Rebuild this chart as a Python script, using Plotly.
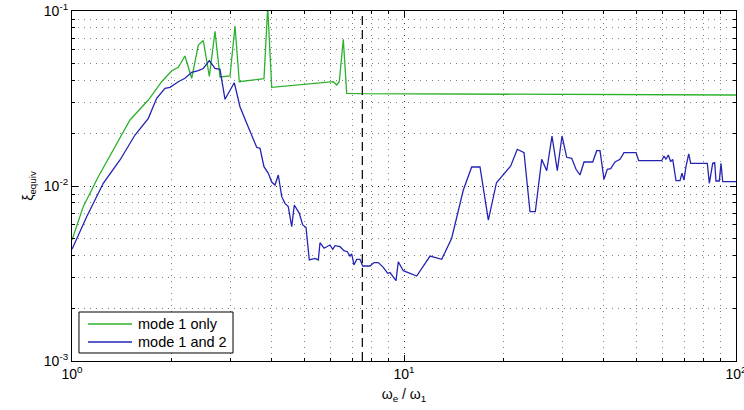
import plotly.graph_objects as go

# ---- data ----
freq_mode1 = [1.000, 1.081, 1.200, 1.332, 1.495, 1.698, 1.863, 1.997, 2.090, 2.189,
              2.294, 2.401, 2.486, 2.592, 2.696, 2.791, 2.992, 3.097, 3.191, 3.787,
              3.886, 3.995, 6.124, 6.270, 6.384, 6.564, 6.720, 7.370, 100.0]
xi_mode1 = [0.00491, 0.00762, 0.01130, 0.01606, 0.02383, 0.03100, 0.03945, 0.04559, 0.04768, 0.05531,
            0.04125, 0.06393, 0.06783, 0.04224, 0.07656, 0.04196, 0.04252, 0.08209, 0.03945, 0.04103,
            0.105, 0.03664, 0.03945, 0.03777, 0.03945, 0.06891, 0.03386, 0.03368, 0.03311]

freq_mode12 = [1.000, 1.107, 1.242, 1.395, 1.548, 1.698, 1.799, 1.906, 1.973, 2.090,
               2.189, 2.294, 2.401, 2.486, 2.592, 2.696, 2.791, 2.890, 3.082, 3.206,
               3.359, 3.477, 3.600, 3.684, 3.787, 3.902, 3.995, 4.087, 4.182, 4.282,
               4.380, 4.481, 4.590, 4.673, 4.838, 4.953, 5.068, 5.185, 5.394, 5.519,
               5.584, 5.742, 5.986, 6.099, 6.197, 6.416, 6.596, 6.749, 6.876, 6.958,
               7.068, 7.204, 7.370, 7.510, 7.899, 8.122, 8.367, 8.662, 8.825, 8.932,
               9.075, 9.247, 9.460, 9.612, 9.952, 10.92, 11.98, 12.99, 13.92, 15.09,
               15.99, 16.94, 17.95, 18.99, 20.96, 21.94, 22.99, 23.96, 24.86, 25.99,
               26.91, 27.91, 28.96, 29.92, 30.91, 32.00, 32.97, 33.89, 34.85, 37.02,
               38.06, 38.94, 40.03, 40.96, 41.94, 43.21, 44.73, 45.99, 49.98, 50.93,
               59.73, 60.69, 61.54, 62.53, 63.58, 64.47, 65.96, 67.82, 68.76, 69.72,
               70.68, 72.04, 73.04, 81.95, 83.10, 85.08, 86.27, 87.04, 89.07, 90.12,
               91.19, 100.0]
xi_mode12 = [0.00435, 0.00668, 0.01036, 0.01408, 0.01956, 0.02437, 0.03171, 0.03617, 0.03664, 0.03945,
             0.04125, 0.04464, 0.04559, 0.04693, 0.05200, 0.04705, 0.04644, 0.03129, 0.03893, 0.02839,
             0.02282, 0.01956, 0.01664, 0.01642, 0.01289, 0.01182, 0.01054, 0.01013, 0.01156, 0.00869,
             0.00796, 0.00762, 0.00585, 0.00779, 0.00698, 0.00599, 0.00581, 0.00378, 0.00386, 0.00378,
             0.00474, 0.00441, 0.00460, 0.00435, 0.00456, 0.00450, 0.00427, 0.00421, 0.00398, 0.00409,
             0.00354, 0.00381, 0.00381, 0.00349, 0.00349, 0.00365, 0.00365, 0.00343, 0.00328, 0.00317,
             0.00320, 0.00303, 0.00288, 0.00369, 0.00328, 0.00306, 0.00398, 0.00381, 0.00503, 0.00949,
             0.01284, 0.01284, 0.00639, 0.01044, 0.01301, 0.01621, 0.01550, 0.00713, 0.00713, 0.01421,
             0.01223, 0.01931, 0.01223, 0.01931, 0.01459, 0.01440, 0.01246, 0.01156, 0.01371, 0.01371,
             0.01591, 0.01591, 0.01092, 0.01246, 0.01256, 0.01371, 0.01421, 0.01550, 0.01550, 0.01395,
             0.01395, 0.01484, 0.01421, 0.01504, 0.01377, 0.01421, 0.01072, 0.01072, 0.01182, 0.01082,
             0.01289, 0.01524, 0.01348, 0.01348, 0.01036, 0.01348, 0.01359, 0.01068, 0.01068, 0.01348,
             0.01058, 0.01058]

series_names = ["mode 1 only", "mode 1 and 2"]
omega2 = 7.49
x_tick_vals = [1, 10, 100]
x_tick_text = ["10<sup>0</sup>", "10<sup>1</sup>", "10<sup>2</sup>"]
y_tick_vals = [0.001, 0.01, 0.1]
y_tick_text = ["10<sup>-3</sup>", "10<sup>-2</sup>", "10<sup>-1</sup>"]
x_minor = [m * d for d in (1, 10) for m in range(2, 10)]
y_minor = [m * d for d in (0.001, 0.01) for m in range(2, 10)]

GREEN = "#2cb12c"
BLUE = "#2424b4"
COLORS = [GREEN, BLUE]
FONT = "Liberation Sans, Arial, Helvetica, sans-serif"

fig = go.Figure()
fig.add_trace(go.Scatter(x=freq_mode1, y=xi_mode1, mode="lines", name=series_names[0],
                         line=dict(color=GREEN, width=1.3)))
fig.add_trace(go.Scatter(x=freq_mode12, y=xi_mode12, mode="lines", name=series_names[1],
                         line=dict(color=BLUE, width=1.3)))

fig.add_shape(type="line", xref="x", yref="paper", x0=omega2, x1=omega2, y0=0, y1=1,
              line=dict(color="black", width=1.2, dash="9px,5px"))
fig.add_annotation(x=7.577, y=0.00215, xref="x", yref="y", text="ω<sub>2</sub>",
                   showarrow=False, xanchor="left", yanchor="middle",
                   font=dict(size=14, color="black", family=FONT))

# legend box drawn in the lower left corner of the axes (MATLAB style)
fig.add_shape(type="rect", xref="paper", yref="paper", x0=0.0105, x1=0.2425, y0=0.0229, y1=0.14,
              line=dict(color="black", width=1), fillcolor="white", layer="above")
for i, (name, col) in enumerate(zip(series_names, COLORS)):
    yy = 0.1057 - i * 0.0514
    fig.add_shape(type="line", xref="paper", yref="paper", x0=0.0241, x1=0.0904, y0=yy, y1=yy,
                  line=dict(color=col, width=1.3), layer="above")
    fig.add_annotation(x=0.0964, y=yy, xref="paper", yref="paper", text=name, showarrow=False,
                       xanchor="left", yanchor="middle",
                       font=dict(size=14.5, color="black", family=FONT))

grid_major = "rgba(0,0,0,0.8)"
grid_minor = "rgba(0,0,0,0.5)"

axis_common = dict(type="log", showline=True, linecolor="black", linewidth=1.2, mirror="ticks",
                   ticks="inside", ticklen=6, tickcolor="black", showgrid=True,
                   gridcolor=grid_major, griddash="1px,5px", gridwidth=1, zeroline=False,
                   ticklabeloverflow="allow",
                   tickfont=dict(size=14, color="black", family=FONT))

fig.update_xaxes(**axis_common, range=[0, 2], tickmode="array", tickvals=x_tick_vals,
                 ticktext=x_tick_text,
                 minor=dict(tickmode="array", tickvals=x_minor, ticks="inside", ticklen=3,
                            tickcolor="black", showgrid=True, gridcolor=grid_minor,
                            griddash="1px,5px", gridwidth=1),
                 title=dict(text="ω<sub>e</sub> / ω<sub>1</sub>", standoff=8,
                            font=dict(size=14, color="black", family=FONT)))
fig.update_yaxes(**axis_common, range=[-3, -1], tickmode="array", tickvals=y_tick_vals,
                 ticktext=y_tick_text,
                 minor=dict(tickmode="array", tickvals=y_minor, ticks="inside", ticklen=3,
                            tickcolor="black", showgrid=True, gridcolor=grid_minor,
                            griddash="1px,5px", gridwidth=1),
                 title=dict(text="ξ<sub>equiv</sub>", standoff=6,
                            font=dict(size=14, color="black", family=FONT)))

fig.update_layout(
    width=744, height=410,
    margin=dict(l=72, r=8, t=11, b=49, autoexpand=False),
    paper_bgcolor="white", plot_bgcolor="white",
    font=dict(family=FONT, size=14, color="black"),
    showlegend=False,
)

fig.write_html("out.html")
